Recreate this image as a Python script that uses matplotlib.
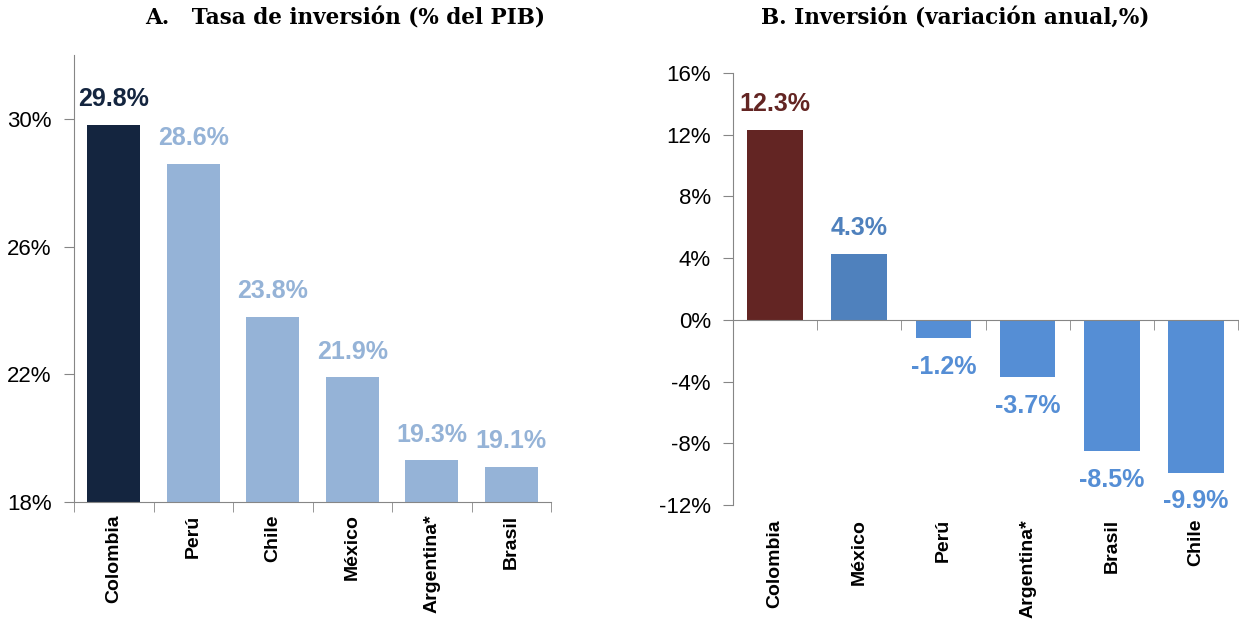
import matplotlib
matplotlib.use("Agg")
import matplotlib.pyplot as plt
from matplotlib import font_manager

# ── datos ─────────────────────────────────────────────────────────────────────
paises_a = ["Colombia", "Perú", "Chile", "México", "Argentina*", "Brasil"]
tasa_inv = [29.8, 28.6, 23.8, 21.9, 19.3, 19.1]
colores_a = ["#14253F", "#95B3D7", "#95B3D7", "#95B3D7", "#95B3D7", "#95B3D7"]

paises_b = ["Colombia", "México", "Perú", "Argentina*", "Brasil", "Chile"]
var_inv = [12.3, 4.3, -1.2, -3.7, -8.5, -9.9]
colores_b = ["#632523", "#4F81BD", "#558ED5", "#558ED5", "#558ED5", "#558ED5"]

ticks_a = [18, 22, 26, 30]
ticks_b = [-12, -8, -4, 0, 4, 8, 12, 16]

# ── estilo ────────────────────────────────────────────────────────────────────
names = {f.name for f in font_manager.fontManager.ttflist}
SANS = ["Liberation Sans Narrow", "Liberation Sans"] if "Liberation Sans Narrow" in names else ["Liberation Sans"]
plt.rcParams["font.family"] = SANS + ["DejaVu Sans"]
GRIS = "#868686"

W, H = 1239, 619
fig = plt.figure(figsize=(W / 100, H / 100), dpi=100)


def px_axes(x0, x1, y_top, y_bot):
    return fig.add_axes([x0 / W, 1 - y_bot / H, (x1 - x0) / W, (y_bot - y_top) / H])


def estilo(ax):
    for s in ["top", "right"]:
        ax.spines[s].set_visible(False)
    ax.spines["left"].set_color(GRIS)
    ax.spines["bottom"].set_color(GRIS)
    ax.tick_params(axis="y", direction="out", length=7, color=GRIS,
                   labelsize=16, pad=9)
    ax.set_xlim(-0.5, 5.5)
    ax.set_xticks([])
    ax.set_xticks([i - 0.5 for i in range(7)], minor=True)
    ax.tick_params(axis="x", which="minor", direction="out", length=7,
                   color=GRIS, labelbottom=False)


def etiquetas_x(ax, labels, ybase, dy):
    for i, lab in enumerate(labels):
        ax.annotate(lab, (i, ybase), xytext=(0, dy), textcoords="offset points",
                    rotation=90, ha="center", va="top", fontsize=14,
                    fontweight="bold")


# ═══ Panel A ═══
ax = px_axes(74, 551, 55, 502)
estilo(ax)
ax.bar(range(6), tasa_inv, width=0.67, color=colores_a)
ax.set_ylim(18, 32)
ax.set_yticks(ticks_a, [f"{t}%" for t in ticks_a])
for i, v in enumerate(tasa_inv):
    ax.annotate(f"{v:.1f}%", (i, v), xytext=(0, 10), textcoords="offset points",
                ha="center", va="bottom", fontsize=18, fontweight="bold",
                color=colores_a[i])
etiquetas_x(ax, paises_a, 18, -9)
fig.text(345 / W, 1 - 18 / H, "A.   Tasa de inversión (% del PIB)",
         ha="center", va="center", fontsize=15.5, fontweight="bold",
         family="DejaVu Serif")

# ═══ Panel B ═══
ax = px_axes(733, 1238, 73, 505)
estilo(ax)
ax.spines["bottom"].set_position(("data", 0))
ax.bar(range(6), var_inv, width=0.66, color=colores_b)
ax.set_ylim(-12, 16)
ax.set_yticks(ticks_b, [f"{t}%" for t in ticks_b])
for i, v in enumerate(var_inv):
    off = 10 if v > 0 else -12
    ax.annotate(f"{v:.1f}%", (i, v), xytext=(0, off), textcoords="offset points",
                ha="center", va="bottom" if v > 0 else "top", fontsize=18,
                fontweight="bold", color=colores_b[i])
etiquetas_x(ax, paises_b, -12, -10)
fig.text(955 / W, 1 - 18 / H, "B. Inversión (variación anual,%)",
         ha="center", va="center", fontsize=15.5, fontweight="bold",
         family="DejaVu Serif")

plt.savefig("out.png", dpi=100)
